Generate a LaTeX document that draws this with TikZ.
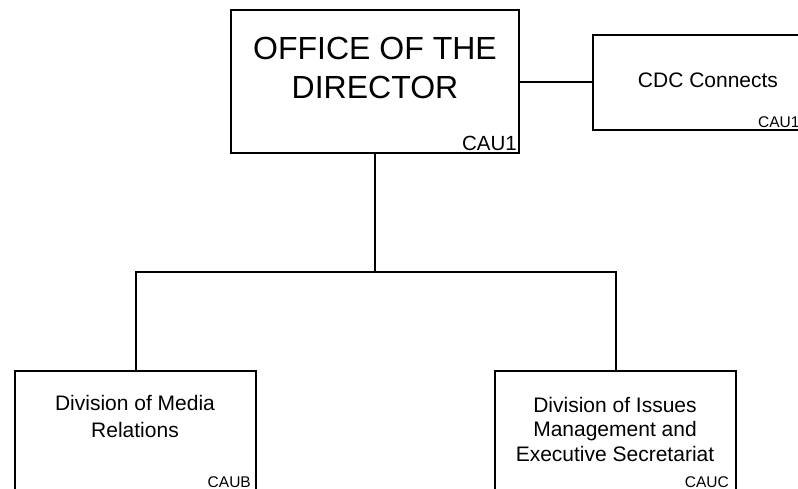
\documentclass[tikz,border=0pt]{standalone}
\usepackage{fontspec}
\setmainfont{Liberation Sans}
\begin{document}
\begin{tikzpicture}[x=1pt,y=-1pt,
  box/.style={draw,line width=2pt,rectangle,inner sep=0pt},
  lbl/.style={align=center,inner sep=0pt},
  code/.style={inner sep=0pt,font=\fontsize{15.5}{18}\selectfont},
  link/.style={line width=2pt}]
\useasboundingbox (0,0) rectangle (798,489);
\clip (0,0) rectangle (798,489);
% boxes
\node[box,minimum width=288pt,minimum height=143pt] (dir) at (375,81.5) {};
\node[box,minimum width=260pt,minimum height=95pt,anchor=north west] (cdc) at (592,34) {};
\node[box,minimum width=241pt,minimum height=140pt,anchor=north west] (media) at (14,370) {};
\node[box,minimum width=241pt,minimum height=140pt,anchor=north west] (issues) at (494,370) {};
% texts
\node[lbl,font=\fontsize{32}{39}\selectfont] (dirt) at (375,68) {OFFICE OF THE\\DIRECTOR};
\node[code,font=\fontsize{20.5}{24}\selectfont,anchor=base east] (dirc) at (517,151) {CAU1};
\node[lbl,font=\fontsize{21}{25}\selectfont] (cdct) at (708,80) {CDC Connects};
\node[code,anchor=base west] (cdcc) at (758,127.5) {CAU1};
\node[lbl,font=\fontsize{21}{27}\selectfont] (mediat) at (135,416) {Division of Media\\Relations};
\node[code,anchor=base east] (mediac) at (251,487) {CAUB};
\node[lbl,font=\fontsize{21}{24.5}\selectfont] (issuest) at (615,429) {Division of Issues\\Management and\\Executive Secretariat};
\node[code,anchor=base east] (issuesc) at (729,487) {CAUC};
% connectors
\coordinate (bar) at (375,272);
\draw[link] (dir.east |- 0,82) -- (cdc.west |- 0,82);
\draw[link] (dir.south) -- (bar);
\draw[link] (media.north) |- (bar) -| (issues.north);
\end{tikzpicture}
\end{document}
